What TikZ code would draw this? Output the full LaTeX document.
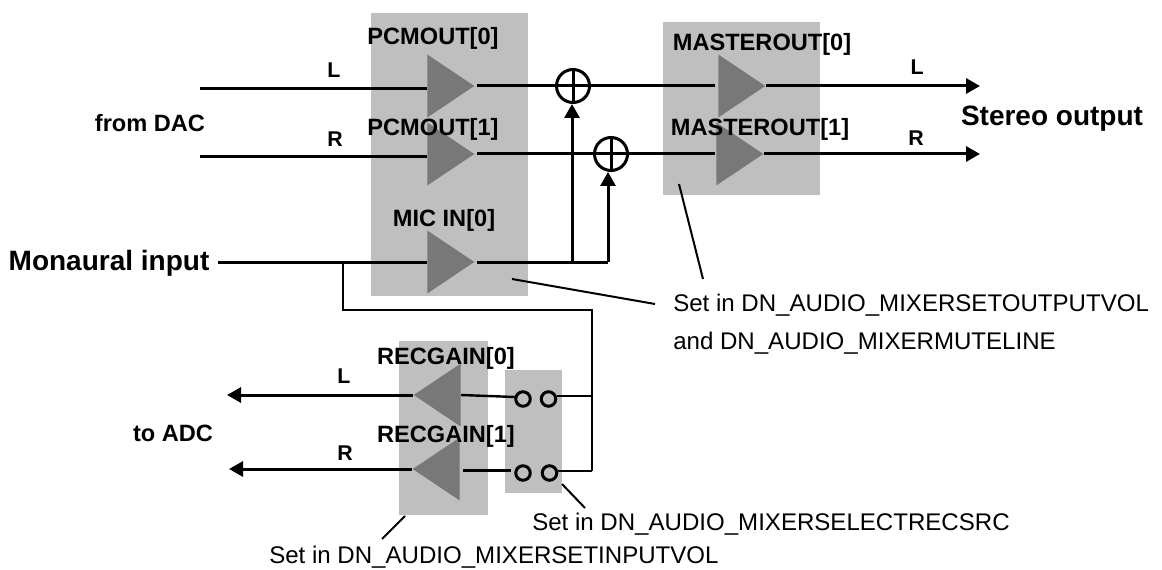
\documentclass[tikz,border=0pt]{standalone}
\usepackage{fontspec}
\setmainfont{Liberation Sans}
\usetikzlibrary{
  shapes.geometric,
  arrows.meta,
  positioning
}
\definecolor{boxgray}{RGB}{191,191,191}
\definecolor{ampgray}{RGB}{120,120,120}
\newcommand{\px}{0.75pt}
\tikzset{
  graybox/.style={
    rectangle, fill=boxgray, inner sep=0pt, anchor=north west
  },
  ampR/.style={
    isosceles triangle, isosceles triangle stretches, fill=ampgray,
    inner sep=0pt, minimum width=63*\px, minimum height=47*\px,
    anchor=lower side
  },
  ampL/.style={
    ampR, shape border rotate=180
  },
  sumnode/.style={
    circle, draw, line width=3*\px, minimum size=33*\px, inner sep=0pt,
    path picture={
      \draw[line width=3*\px] (path picture bounding box.north) -- (path picture bounding box.south);
      \draw[line width=3*\px] (path picture bounding box.west) -- (path picture bounding box.east);
    }
  },
  contact/.style={
    circle, draw, line width=3*\px, minimum size=14.5*\px, inner sep=0pt
  },
  pt/.style={coordinate},
  wire/.style={line width=3*\px},
  wireT/.style={line width=2.4*\px},
  leader/.style={line width=2*\px},
  arrow/.style={-{Triangle[length=14*\px, width=15*\px]}, line width=3*\px},
  lbl/.style={font=\fontsize{17.7pt}{20pt}\bfseries, inner sep=0pt},
  lblS/.style={font=\fontsize{16pt}{18pt}\bfseries, inner sep=0pt},
  lblB/.style={font=\fontsize{21pt}{24pt}\bfseries, inner sep=0pt},
  note/.style={font=\fontsize{18.05pt}{20pt}\selectfont, inner sep=0pt, anchor=west}
}

\begin{document}
\begin{tikzpicture}[x=\px, y=-\px]
  \useasboundingbox (0,0) rectangle (1162,570);

  % shaded groups
  \node[graybox, minimum width=157*\px, minimum height=283*\px] (pcmbox) at (371,13) {};
  \node[graybox, minimum width=157*\px, minimum height=173*\px] (masterbox) at (663,22) {};
  \node[graybox, minimum width=89*\px, minimum height=174*\px] (recbox) at (399,341) {};
  \node[graybox, minimum width=57*\px, minimum height=123*\px] (selbox) at (505,370) {};

  % amplifiers
  \node[ampR] (pcm0) at (427,86) {};
  \node[ampR] (pcm1) at (427,154) {};
  \node[ampR] (mic0) at (427,262) {};
  \node[ampR] (master0) at (718,86) {};
  \node[ampR] (master1) at (716,154) {};
  \node[ampL] (rec0) at (461,395) {};
  \node[ampL] (rec1) at (460,469) {};

  % adders and record source contacts
  \node[sumnode] (sum0) at (573,86) {};
  \node[sumnode] (sum1) at (611,154) {};
  \node[contact] (sel0a) at (523,399) {};
  \node[contact, right=8*\px of sel0a] (sel0b) {};
  \node[contact] (sel1a) at (523,473) {};
  \node[contact, right=9*\px of sel1a] (sel1b) {};

  % free line ends
  \node[pt] (inL) at (200,89) {};
  \node[pt] (inR) at (200,157) {};
  \node[pt] (inM) at (218,262) {};
  \node[pt] (outL) at (980,86) {};
  \node[pt] (outR) at (980,154) {};
  \node[pt] (adcL) at (227,395) {};
  \node[pt] (adcR) at (229,469) {};
  \node[pt] (tapA) at (343,262) {};
  \node[pt] (tapB) at (343,310) {};
  \node[pt] (tapC) at (592,310) {};
  \node[pt] (tapD) at (592,396) {};
  \node[pt] (tapE) at (592,471) {};
  \node[pt] (micA) at (572,262) {};
  \node[pt] (micB) at (608,262) {};
  \node[pt] (selin0) at (515,397) {};
  \node[pt] (selin1) at (511,470) {};

  \draw[wire] (inL) -- (inL -| pcm0.lower side);
  \draw[wire] (inR) -- (inR -| pcm1.lower side);
  \draw[wire] (inM) -- (mic0.lower side);
  \draw[wire, shorten <=2*\px] (pcm0.apex) -- (sum0);
  \draw[wire, shorten >=3*\px] (sum0) -- (master0.lower side);
  \draw[wire, shorten <=2*\px] (pcm1.apex) -- (sum1);
  \draw[wire, shorten >=1*\px] (sum1) -- (master1.lower side);
  \draw[arrow] (master0.apex) -- (outL);
  \draw[arrow] (master1.apex) -- (outR);
  \draw[wire, shorten <=2*\px] (mic0.apex) -- (micB);
  \draw[arrow] (micA) -- (sum0.south -| micA);
  \draw[arrow] (micB) -- (sum1.south -| micB);
  \draw[wireT] (tapA) -- (tapB) -- (tapC) -- (tapE);
  \draw[arrow] (rec0.apex) -- (adcL);
  \draw[arrow] (rec1.apex) -- (adcR);
  \draw[wireT] (rec0.lower side) -- (selin0);
  \draw[wire, shorten <=3*\px] (selin1 -| rec1.lower side) -- (selin1);
  \draw[wireT] (tapD -| sel0b.east) -- (tapD);
  \draw[wireT] (tapE -| sel1b.east) -- (tapE);

  % leaders
  \node[pt] (fromA) at (512,279) {};
  \node[pt] (fromB) at (679,184) {};
  \node[pt] (fromC) at (405,516) {};
  \node[pt] (fromD) at (562,484) {};
  \node[pt] (toA) at (655,304) {};
  \node[pt] (toB) at (703,279) {};
  \node[pt] (toC) at (382,539) {};
  \node[pt] (toD) at (585,508) {};
  \draw[leader] (fromA) -- (toA);
  \draw[leader] (fromB) -- (toB);
  \draw[leader] (fromC) -- (toC);
  \draw[leader] (fromD) -- (toD);

  % labels
  \node[lbl] (lblpcm0) at (433,38) {PCMOUT[0]};
  \node[lbl] (lblpcm1) at (433,129) {PCMOUT[1]};
  \node[lbl] (lblmic) at (444,220) {MIC IN[0]};
  \node[lbl] (lblmaster0) at (762,44) {MASTEROUT[0]};
  \node[lbl] (lblmaster1) at (760,129) {MASTEROUT[1]};
  \node[lbl] (lblrec0) at (446,358) {RECGAIN[0]};
  \node[lbl] (lblrec1) at (446,436) {RECGAIN[1]};
  \node[lblS] (lblinL) at (334,70) {L};
  \node[lblS] (lblinR) at (335,139) {R};
  \node[lblS] (lbloutL) at (917,67) {L};
  \node[lblS] (lbloutR) at (916,138) {R};
  \node[lblS] (lbladcL) at (344,376) {L};
  \node[lblS] (lbladcR) at (345,453) {R};
  \node[lbl] (lbldac) at (150,123) {from DAC};
  \node[lbl] (lbladc) at (173,433) {to ADC};
  \node[lblB] (lblstereo) at (1052,119) {Stereo output};
  \node[lblB] (lblmono) at (109,263) {Monaural input};
  \node[note] (note0) at (673,305) {Set in DN\_AUDIO\_MIXERSETOUTPUTVOL};
  \node[note] (note1) at (673,343) {and DN\_AUDIO\_MIXERMUTELINE};
  \node[note] (note2) at (532,524) {Set in DN\_AUDIO\_MIXERSELECTRECSRC};
  \node[note] (note3) at (269,557) {Set in DN\_AUDIO\_MIXERSETINPUTVOL};
\end{tikzpicture}
\end{document}
